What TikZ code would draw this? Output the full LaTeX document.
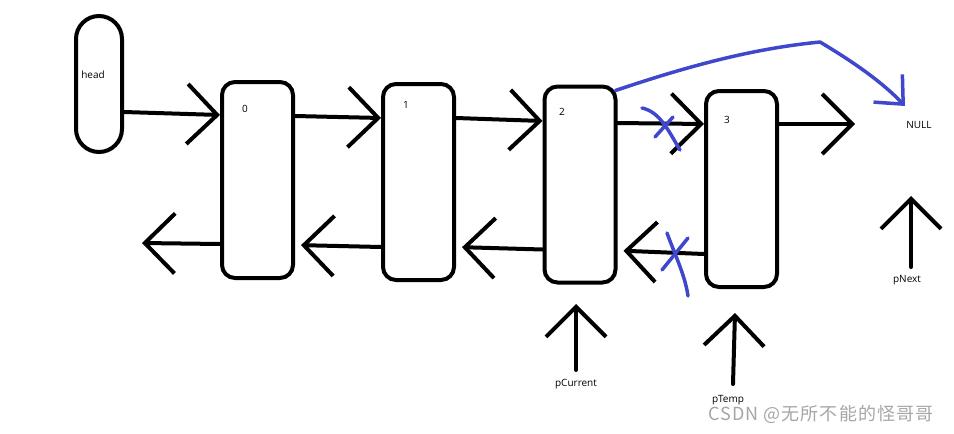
\documentclass[tikz,border=0pt]{standalone}
\usepackage{fontspec}
\setmainfont{Open Sans}
\newfontfamily\cjk{Noto Sans CJK SC}
\usetikzlibrary{arrows.meta,positioning,calc}
\definecolor{penblue}{RGB}{63,72,204}
\begin{document}
\begin{tikzpicture}[x=1pt,y=-1pt,
  nd/.style={draw,line width=4pt,rounded corners=13pt,minimum width=71pt,minimum height=196pt,inner sep=0pt},
  hd/.style={draw,line width=4pt,rounded corners=23pt,minimum width=46pt,minimum height=136pt,inner sep=0pt},
  arr/.style={-{Straight Barb[length=30pt,width=60pt]},line width=4pt,line cap=round},
  lab/.style={font=\fontsize{10}{12}\selectfont,inner sep=0pt},
  pen/.style={penblue,line width=3.5pt,line cap=round,line join=round}]
\useasboundingbox (0,0) rectangle (954,434);
% list nodes
\node[hd] (head) at (99,84) {};
\node[nd] (b0) at (257.5,180) {};
\node[nd] (b1) at (418.5,182) {};
\node[nd] (b2) at (580,184.5) {};
\node[nd] (b3) at (741.5,189) {};
\node[lab] (headlbl) at (93,75) {head};
\node[lab] (n0) at (245,109) {0};
\node[lab] (n1) at (406,105) {1};
\node[lab] (n2) at (562,112) {2};
\node[lab] (n3) at (727,120) {3};
\node[lab] (null) at (919,125) {NULL};
\coordinate (e3) at (855,124);
\coordinate (e0) at (142,243);
% next links
\draw[arr] ([yshift=-28pt]head.east) -- ([yshift=65pt]b0.west);
\draw[arr] ([yshift=64pt]b0.east) -- ([yshift=64pt]b1.west);
\draw[arr] ([yshift=64pt]b1.east) -- ([yshift=63.5pt]b2.west);
\draw[arr] ([yshift=61.5pt]b2.east) -- ([yshift=65pt]b3.west);
\draw[arr] ([yshift=65pt]b3.east) -- (e3);
% prev links
\draw[arr] ([yshift=-64pt]b0.west) -- (e0);
\draw[arr,shorten >=6pt] ([yshift=-65pt]b1.west) -- ([yshift=-65pt]b0.east);
\draw[arr,shorten >=6pt] ([yshift=-65pt]b2.west) -- ([yshift=-65pt]b1.east);
\draw[arr,shorten >=6pt] ([yshift=-65pt]b3.west) -- ([yshift=-66pt]b2.east);
% pointers
\node[lab] (pcur) at (576,384) {pCurrent};
\node[lab] (ptmp) at (728,400) {pTemp};
\node[lab] (pnx) at (907,280) {pNext};
\coordinate (tc) at (576,304);
\coordinate (tt) at (735,313);
\coordinate (tn) at (911,196);
\draw[arr] ([yshift=9pt]pcur.north) -- (tc);
\draw[arr] ([xshift=5pt,yshift=11pt]ptmp.north) -- (tt);
\draw[arr] ([xshift=4pt,yshift=8pt]pnx.north) -- (tn);
% pen marks
\coordinate (nl) at (905,106);
\draw[pen,-{Straight Barb[length=22pt,width=40pt]}] ([xshift=-2pt,yshift=-6pt]b2.north east) .. controls (700,62) and (760,48) .. (820,42) .. controls (850,60) and (880,80) .. (nl);
\draw[pen] (642,108) .. controls (660,112) and (668,130) .. (680,150);
\draw[pen] (655,137) -- (673,117);
\draw[pen] (667,233) .. controls (675,255) and (685,275) .. (688,296);
\draw[pen] (662,270) -- (688,238);
\node[font=\cjk\fontsize{18}{20}\selectfont\addfontfeatures{LetterSpace=6},text=gray!70,anchor=west,inner sep=0pt] (wm) at (708,414) {CSDN @无所不能的怪哥哥};
\end{tikzpicture}
\end{document}
